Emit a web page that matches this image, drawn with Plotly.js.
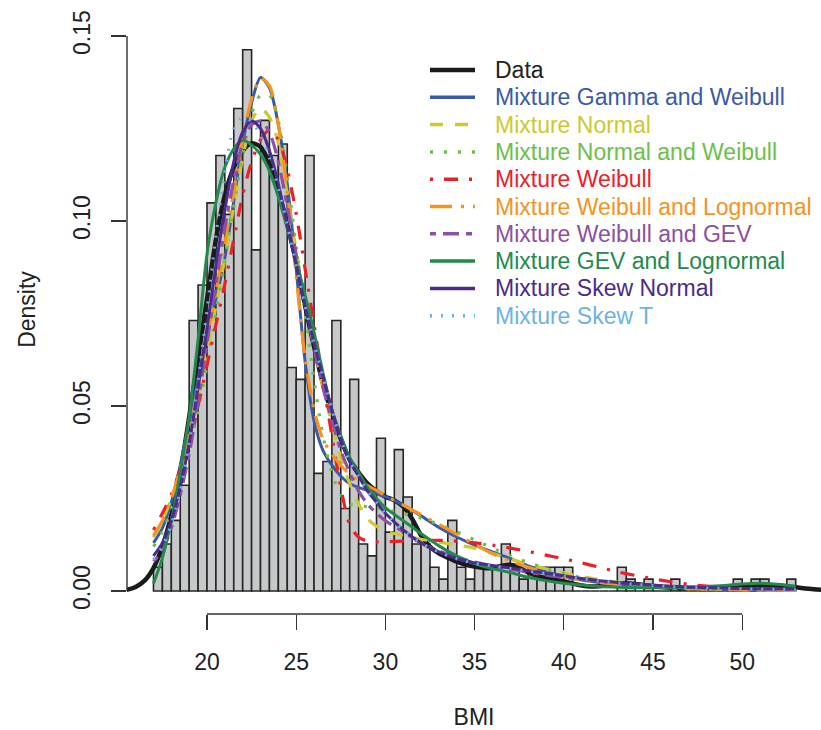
<!DOCTYPE html>
<html>
<head>
<meta charset="utf-8">
<script src="https://cdn.plot.ly/plotly-3.0.1.min.js"></script>
<style>
  html, body { margin: 0; padding: 0; background: #ffffff; }
  #chart { width: 821px; height: 730px; }
</style>
</head>
<body>
<div id="chart"></div>
<script>
// ---- Histogram of BMI (bin width 0.5, left edges from 17 to 52.5), density scale ----
const binLeft = [];
for (let v = 17; v < 53; v += 0.5) binLeft.push(v);
const binWidth = 0.5;
const binDensity = [
  0.0064, 0.0127, 0.0191, 0.0286, 0.0731, 0.0827, 0.1049, 0.1177, 0.1018, 0.1304,
  0.1463, 0.0922, 0.1272, 0.1177, 0.1208, 0.0604, 0.0572, 0.1177, 0.0318, 0.0350,
  0.0731, 0.0223, 0.0572, 0.0127, 0.0095, 0.0413, 0.0159, 0.0382, 0.0254, 0.0127,
  0.0127, 0.0064, 0.0032, 0.0191, 0.0064, 0.0032, 0.0064, 0.0064, 0.0064, 0.0127,
  0.0064, 0.0032, 0.0064, 0.0064, 0.0064, 0.0064, 0.0064, 0, 0, 0,
  0, 0, 0.0064, 0.0032, 0, 0.0032, 0, 0, 0.0032, 0,
  0, 0, 0, 0, 0, 0.0032, 0, 0.0032, 0.0032, 0,
  0, 0.0032
];

// ---- Kernel density of the observed data ----
const dataX = [15.1, 15.5, 16, 16.5, 17, 17.5, 18, 18.5, 19, 19.5, 20, 20.5, 21, 21.5, 22, 22.5,
  23, 23.5, 24, 24.5, 25, 25.5, 26, 26.5, 27, 27.5, 28, 28.5, 29, 29.5, 30, 30.5, 31, 31.5, 32,
  32.5, 33, 33.5, 34, 34.5, 35, 35.5, 36, 36.5, 37, 37.5, 38, 38.5, 39, 39.5, 40, 40.5, 41, 41.5,
  42, 42.5, 43, 43.5, 44, 44.5, 45, 46, 47, 48, 49, 50, 51, 52, 53, 54, 55];
const dataDensity = [0, 0.0003, 0.0011, 0.0028, 0.0062, 0.012, 0.0205, 0.032, 0.047, 0.063,
  0.079, 0.095, 0.107, 0.1145, 0.119, 0.121, 0.120, 0.1155, 0.108, 0.099, 0.089, 0.077, 0.066,
  0.056, 0.048, 0.041, 0.0355, 0.032, 0.029, 0.027, 0.0255, 0.0245, 0.0228, 0.0195, 0.015, 0.012,
  0.0102, 0.009, 0.0079, 0.0071, 0.0066, 0.0062, 0.0062, 0.0068, 0.0071, 0.0064, 0.005, 0.0041,
  0.0035, 0.003, 0.0026, 0.002, 0.0015, 0.0012, 0.0013, 0.0016, 0.002, 0.0021, 0.0019, 0.0016,
  0.0013, 0.0009, 0.0007, 0.0008, 0.0011, 0.0015, 0.0017, 0.0015, 0.001, 0.0005, 0.0002];

// ---- Fitted mixture densities, evaluated on a common BMI grid ----
const fitX = [17, 17.5, 18, 18.5, 19, 19.5, 20, 20.5, 21, 21.5, 22, 22.5, 23, 23.5, 24, 24.5, 25,
  25.5, 26, 26.5, 27, 27.5, 28, 28.5, 29, 29.5, 30, 31, 32, 33, 34, 35, 36, 37, 38, 39, 40, 41,
  42, 43, 44, 45, 46, 47, 48, 49, 50, 51, 52, 53];

const gammaWeibull = [0.013, 0.017, 0.024, 0.034, 0.046, 0.057, 0.070, 0.079, 0.090, 0.1055,
  0.121, 0.132, 0.1388, 0.136, 0.126, 0.110, 0.087, 0.062, 0.046, 0.038, 0.034, 0.031, 0.029,
  0.028, 0.0272, 0.0263, 0.0255, 0.0232, 0.0203, 0.0172, 0.0146, 0.0124, 0.0106, 0.0088, 0.0068,
  0.0052, 0.004, 0.003, 0.0023, 0.0018, 0.0014, 0.0011, 0.0009, 0.0007, 0.0006, 0.0005, 0.0004,
  0.0003, 0.0003, 0.0002];
const normalMix = [0.0145, 0.019, 0.025, 0.032, 0.041, 0.052, 0.064, 0.077, 0.090, 0.104, 0.117,
  0.127, 0.1305, 0.128, 0.121, 0.107, 0.092, 0.078, 0.066, 0.055, 0.045, 0.036, 0.029, 0.0235,
  0.0195, 0.0175, 0.0162, 0.015, 0.014, 0.0132, 0.0124, 0.0116, 0.0102, 0.0086, 0.0072, 0.006,
  0.0049, 0.0039, 0.0031, 0.0024, 0.0018, 0.0014, 0.001, 0.0008, 0.0006, 0.0005, 0.0004, 0.0003,
  0.0002, 0.0002];
const normalWeibull = [0.012, 0.016, 0.022, 0.029, 0.038, 0.049, 0.061, 0.075, 0.089, 0.104,
  0.118, 0.129, 0.134, 0.134, 0.127, 0.112, 0.093, 0.075, 0.057, 0.042, 0.032, 0.026, 0.0235,
  0.023, 0.0228, 0.0225, 0.022, 0.021, 0.0197, 0.018, 0.016, 0.0138, 0.0116, 0.0095, 0.0077,
  0.0061, 0.0047, 0.0036, 0.0027, 0.002, 0.0015, 0.0011, 0.0008, 0.0006, 0.0005, 0.0004, 0.0003,
  0.0002, 0.0002, 0.0001];
const weibullMix = [0.0165, 0.021, 0.026, 0.033, 0.040, 0.050, 0.061, 0.072, 0.083, 0.095, 0.107,
  0.116, 0.122, 0.1245, 0.122, 0.114, 0.102, 0.087, 0.072, 0.057, 0.042, 0.028, 0.018, 0.0145,
  0.0135, 0.0133, 0.0133, 0.0135, 0.0137, 0.0137, 0.0135, 0.013, 0.0124, 0.0116, 0.0107, 0.0097,
  0.0087, 0.0076, 0.0064, 0.0052, 0.0042, 0.0033, 0.0025, 0.0018, 0.0013, 0.0009, 0.0006, 0.0004,
  0.0003, 0.0002];
const weibullLognormal = [0.015, 0.019, 0.025, 0.033, 0.043, 0.055, 0.068, 0.081, 0.094, 0.108,
  0.122, 0.133, 0.1385, 0.1365, 0.126, 0.108, 0.085, 0.063, 0.049, 0.041, 0.037, 0.034, 0.0315,
  0.0298, 0.0285, 0.0272, 0.0258, 0.0232, 0.0206, 0.018, 0.0153, 0.0126, 0.0101, 0.0081, 0.0064,
  0.005, 0.0039, 0.003, 0.0023, 0.0017, 0.0013, 0.001, 0.0008, 0.0006, 0.0005, 0.0004, 0.0003,
  0.0003, 0.0002, 0.0002];
const weibullGEV = [0.008, 0.011, 0.017, 0.026, 0.037, 0.051, 0.067, 0.083, 0.098, 0.111, 0.121,
  0.126, 0.127, 0.124, 0.116, 0.104, 0.091, 0.078, 0.066, 0.055, 0.046, 0.038, 0.032, 0.027,
  0.0235, 0.021, 0.019, 0.016, 0.013, 0.0108, 0.0091, 0.0078, 0.0068, 0.0059, 0.0051, 0.0043,
  0.0037, 0.0031, 0.0026, 0.0022, 0.0018, 0.0015, 0.0012, 0.001, 0.0008, 0.0007, 0.0006, 0.0005,
  0.0005, 0.0004];
const gevLognormal = [0.002, 0.009, 0.019, 0.032, 0.047, 0.068, 0.091, 0.105, 0.1145, 0.1195,
  0.1218, 0.1205, 0.118, 0.1135, 0.1065, 0.098, 0.089, 0.080, 0.070, 0.059, 0.049, 0.042, 0.036,
  0.032, 0.028, 0.025, 0.0225, 0.019, 0.0155, 0.0122, 0.0095, 0.0074, 0.006, 0.005, 0.0037,
  0.0028, 0.0021, 0.0016, 0.0012, 0.001, 0.0009, 0.0009, 0.0009, 0.001, 0.0012, 0.0015, 0.0019,
  0.0021, 0.0018, 0.0012];
const skewNormal = [0.0095, 0.013, 0.019, 0.028, 0.040, 0.055, 0.071, 0.088, 0.103, 0.116, 0.124,
  0.127, 0.125, 0.119, 0.110, 0.099, 0.088, 0.077, 0.067, 0.058, 0.049, 0.041, 0.035, 0.031, 0.027,
  0.024, 0.021, 0.0165, 0.013, 0.0105, 0.0088, 0.0076, 0.0069, 0.0062, 0.0055, 0.0048, 0.0041,
  0.0034, 0.0028, 0.0023, 0.0019, 0.0016, 0.0013, 0.0011, 0.0009, 0.0008, 0.0007, 0.0006, 0.0006,
  0.0005];
const skewT = [0.0085, 0.012, 0.018, 0.027, 0.040, 0.057, 0.076, 0.096, 0.113, 0.125, 0.128, 0.127,
  0.123, 0.117, 0.109, 0.099, 0.088, 0.077, 0.067, 0.058, 0.049, 0.041, 0.035, 0.031, 0.027, 0.024,
  0.021, 0.0165, 0.013, 0.0105, 0.0087, 0.0075, 0.0068, 0.0061, 0.0054, 0.0047, 0.004, 0.0033,
  0.0027, 0.0022, 0.0018, 0.0015, 0.0012, 0.001, 0.0008, 0.0007, 0.0006, 0.0005, 0.0005, 0.0004];

const seriesNames = ["Data", "Mixture Gamma and Weibull", "Mixture Normal",
  "Mixture Normal and Weibull", "Mixture Weibull", "Mixture Weibull and Lognormal",
  "Mixture Weibull and GEV", "Mixture GEV and Lognormal", "Mixture Skew Normal", "Mixture Skew T"];
const xTickVals = [20, 25, 30, 35, 40, 45, 50];
const yTickVals = [0, 0.05, 0.10, 0.15];
const yTickText = ["0.00", "0.05", "0.10", "0.15"];

// ---- styling ----
const FONT = "Liberation Sans, Arial, Helvetica, sans-serif";
const styles = [
  { color: "#1b1b1b", dash: "solid", width: 4.5 },
  { color: "#3a5aa8", dash: "solid", width: 3 },
  { color: "#cdca2e", dash: "13px,12px", width: 3.2 },
  { color: "#6cc04a", dash: "3px,11px", width: 3.2 },
  { color: "#ec2127", dash: "3px,11px,14px,11px", width: 3.2 },
  { color: "#f7931e", dash: "22px,9px,3px,9px", width: 3.2 },
  { color: "#8c50a4", dash: "6px,7px,16px,7px", width: 3.2 },
  { color: "#228b4b", dash: "solid", width: 3 },
  { color: "#4b2b8b", dash: "solid", width: 3 },
  { color: "#6db3e2", dash: "2px,9px", width: 3 }
];
const curveX = [dataX, fitX, fitX, fitX, fitX, fitX, fitX, fitX, fitX, fitX];
const curveY = [dataDensity, gammaWeibull, normalMix, normalWeibull, weibullMix,
  weibullLognormal, weibullGEV, gevLognormal, skewNormal, skewT];

const W = 821, H = 730;
const M = { l: 127, r: 0, t: 5, b: 116 };
const toPaperX = px => (px - M.l) / (W - M.l - M.r);
const toPaperY = py => (H - M.b - py) / (H - M.t - M.b);

const traces = [{
  type: "bar",
  x: binLeft.map(v => v + binWidth / 2),
  y: binDensity,
  width: binWidth,
  marker: { color: "#c7c8ca", line: { color: "#262626", width: 1.6 } },
  hoverinfo: "x+y",
  showlegend: false
}];
curveY.forEach((ys, i) => {
  traces.push({
    type: "scatter", mode: "lines",
    name: seriesNames[i],
    x: curveX[i], y: ys,
    line: { color: styles[i].color, dash: styles[i].dash, width: styles[i].width,
            shape: "spline", smoothing: 0.8 },
    showlegend: false
  });
});

// R-style axis lines spanning only the tick range
const shapes = [
  { type: "line", xref: "x", yref: "paper", x0: 20, x1: 50, y0: 0, y1: 0,
    line: { color: "#333333", width: 1.4 } },
  { type: "line", xref: "paper", yref: "y", x0: 0, x1: 0, y0: 0, y1: 0.15,
    line: { color: "#333333", width: 1.4 } }
];
const annotations = [];

// Legend block (top right)
const legTop = 70, legStep = 27.3, legLineX0 = 430, legLineX1 = 475, legTextX = 493;
seriesNames.forEach((name, i) => {
  const yc = legTop + i * legStep;
  shapes.push({
    type: "line", xref: "paper", yref: "paper",
    x0: toPaperX(legLineX0), x1: toPaperX(legLineX1),
    y0: toPaperY(yc), y1: toPaperY(yc),
    line: { color: styles[i].color, dash: styles[i].dash, width: Math.max(styles[i].width, 3.5) }
  });
  annotations.push({
    xref: "paper", yref: "paper", x: toPaperX(legTextX), y: toPaperY(yc),
    xanchor: "left", yanchor: "middle", showarrow: false,
    text: name, font: { family: FONT, size: 23, color: i === 0 ? "#222222" : styles[i].color }
  });
});

const layout = {
  width: W, height: H,
  margin: M,
  paper_bgcolor: "#ffffff", plot_bgcolor: "#ffffff",
  font: { family: FONT, size: 23, color: "#222222" },
  showlegend: false,
  bargap: 0,
  xaxis: {
    range: [15.5157, 54.417],
    showgrid: false, zeroline: false, showline: false,
    tickmode: "array", tickvals: xTickVals,
    ticks: "outside", ticklen: 15, tickwidth: 1.4, tickcolor: "#333333",
    ticklabelstandoff: 12,
    tickfont: { family: FONT, size: 23, color: "#222222" },
    title: { text: "BMI", font: { family: FONT, size: 23, color: "#222222" }, standoff: 35 }
  },
  yaxis: {
    range: [-0.0062162, 0.158378],
    showgrid: false, zeroline: false, showline: false,
    tickmode: "array", tickvals: yTickVals, ticktext: yTickText, tickangle: -90,
    ticks: "outside", ticklen: 15, tickwidth: 1.4, tickcolor: "#333333",
    ticklabelstandoff: 12,
    tickfont: { family: FONT, size: 23, color: "#222222" },
    title: { text: "Density", font: { family: FONT, size: 23, color: "#222222" }, standoff: 26 }
  },
  shapes: shapes,
  annotations: annotations
};

Plotly.newPlot("chart", traces, layout, { displayModeBar: false, staticPlot: true });
</script>
</body>
</html>
